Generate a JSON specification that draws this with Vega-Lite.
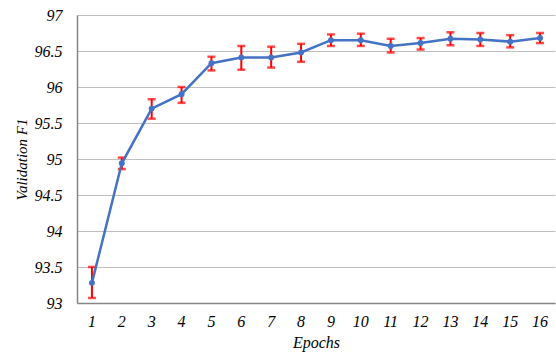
{
  "$schema": "https://vega.github.io/schema/vega-lite/v6.json",
  "width": 478,
  "height": 288,
  "autosize": {"type": "none"},
  "padding": {"left": 77, "top": 15, "right": 1, "bottom": 52},
  "background": "white",
  "config": {
    "view": {"stroke": null},
    "font": "Liberation Serif",
    "axis": {"labelFont": "Liberation Serif", "labelFontStyle": "italic", "labelFontSize": 16, "labelColor": "#000000", "titleFont": "Liberation Serif", "titleFontStyle": "italic", "titleFontWeight": "normal", "titleColor": "#000000"}
  },
  "resolve": {"axis": {"y": "independent"}, "scale": {"y": "shared"}},
  "data": {"values": [
    {"epoch": 1, "f1": 93.28, "lo": 93.07, "hi": 93.50},
    {"epoch": 2, "f1": 94.94, "lo": 94.86, "hi": 95.02},
    {"epoch": 3, "f1": 95.70, "lo": 95.56, "hi": 95.83},
    {"epoch": 4, "f1": 95.90, "lo": 95.78, "hi": 96.00},
    {"epoch": 5, "f1": 96.33, "lo": 96.23, "hi": 96.42},
    {"epoch": 6, "f1": 96.41, "lo": 96.24, "hi": 96.57},
    {"epoch": 7, "f1": 96.41, "lo": 96.27, "hi": 96.56},
    {"epoch": 8, "f1": 96.48, "lo": 96.35, "hi": 96.60},
    {"epoch": 9, "f1": 96.65, "lo": 96.57, "hi": 96.73},
    {"epoch": 10, "f1": 96.65, "lo": 96.57, "hi": 96.74},
    {"epoch": 11, "f1": 96.57, "lo": 96.48, "hi": 96.67},
    {"epoch": 12, "f1": 96.61, "lo": 96.52, "hi": 96.68},
    {"epoch": 13, "f1": 96.67, "lo": 96.58, "hi": 96.76},
    {"epoch": 14, "f1": 96.66, "lo": 96.57, "hi": 96.75},
    {"epoch": 15, "f1": 96.63, "lo": 96.55, "hi": 96.72},
    {"epoch": 16, "f1": 96.68, "lo": 96.61, "hi": 96.75}
  ]},
  "encoding": {
    "x": {"field": "epoch", "type": "ordinal", "title": "Epochs",
      "scale": {"paddingInner": 0, "paddingOuter": 0},
      "axis": {"labelAngle": 0, "ticks": false, "domainColor": "#868686", "domainWidth": 1.5, "labelPadding": 10, "titleFontSize": 16, "titlePadding": 5, "grid": false}}
  },
  "layer": [
    {
      "mark": {"type": "rule", "color": "#ff0000", "strokeWidth": 2},
      "encoding": {
        "y": {"field": "lo", "type": "quantitative", "title": "Validation F1",
          "scale": {"domain": [93, 97], "nice": false, "zero": false},
          "axis": {"values": [93, 93.5, 94, 94.5, 95, 95.5, 96, 96.5, 97], "format": "~g", "labelOverlap": false, "grid": true, "gridColor": "#bfbfbf", "gridWidth": 1, "gridOpacity": 1, "gridDash": [], "tickSize": 0, "domainColor": "#868686", "domainWidth": 1.5, "labelPadding": 15, "titleFontSize": 15, "titlePadding": 5}},
        "y2": {"field": "hi"}
      }
    },
    {
      "mark": {"type": "tick", "color": "#ff0000", "size": 8, "thickness": 2.5, "orient": "horizontal"},
      "encoding": {"y": {"field": "lo", "type": "quantitative", "axis": null}}
    },
    {
      "mark": {"type": "tick", "color": "#ff0000", "size": 8, "thickness": 2.5, "orient": "horizontal"},
      "encoding": {"y": {"field": "hi", "type": "quantitative", "axis": null}}
    },
    {
      "mark": {"type": "line", "color": "#4472c4", "strokeWidth": 2.5},
      "encoding": {"y": {"field": "f1", "type": "quantitative", "axis": null}}
    },
    {
      "mark": {"type": "point", "filled": true, "color": "#4472c4", "size": 35, "opacity": 1},
      "encoding": {"y": {"field": "f1", "type": "quantitative", "axis": null}}
    }
  ]
}
